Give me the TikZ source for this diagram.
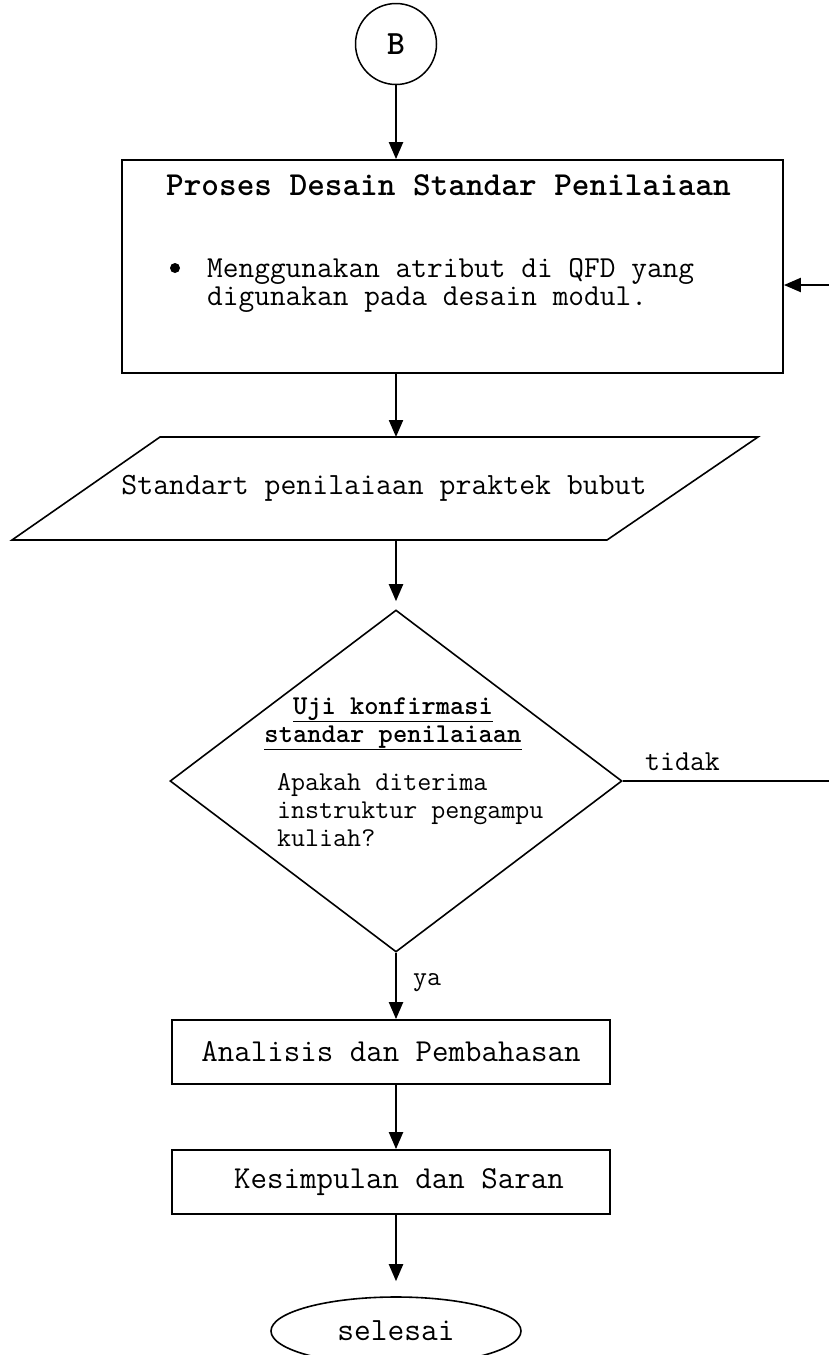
\documentclass[tikz,border=0pt]{standalone}
\usepackage{fontspec}
\usetikzlibrary{shapes.geometric, arrows.meta, positioning}
\tikzstyle{arrow} = [line width=2.2pt,-{Triangle[length=17pt,width=14pt]}]
\tikzstyle{connector}=[line width=1.5pt,draw=black,circle,minimum size=81pt,inner sep=0pt]
\tikzstyle{process}=[line width=1.8pt,draw=black,rectangle,inner sep=0pt]
\tikzstyle{io}=[line width=1.6pt,draw=black]
\tikzstyle{decision}=[line width=1.6pt,draw=black,diamond,inner sep=0pt]
\tikzstyle{terminal}=[line width=1.6pt,draw=black,ellipse,inner sep=0pt]
\tikzstyle{txt}=[inner sep=0pt,font=\ttfamily\fontsize{30.5}{28}\selectfont]
\tikzstyle{smalltxt}=[inner sep=0pt,font=\ttfamily\fontsize{27.2}{28}\selectfont]

\begin{document}
\begin{tikzpicture}[x=1pt,y=-1pt]
    \useasboundingbox (0,0) rectangle (828,1355);
    \node[connector, font=\ttfamily\bfseries\fontsize{34}{34}\selectfont] (b) at (396,44) {B};
    \node[process, minimum width=661pt, minimum height=213pt] (desain) at (452.5,266.5) {};
    \node[inner sep=0pt, anchor=base west, font=\ttfamily\bfseries\fontsize{33.6}{34}\selectfont] (judul) at (166,195) {Proses Desain Standar Penilaiaan};
    \node[inner sep=0pt, circle, fill=black, minimum size=10pt] (bullet) at (175,268) {};
    % base = baseline of the last line
    \node[txt, anchor=base west, align=left] (atribut) at (207,305) {Menggunakan atribut di QFD yang\\digunakan pada desain modul.};
    % data parallelogram
    \coordinate (io-nw) at (160,437);
    \coordinate (io-ne) at (758,437);
    \coordinate (io-se) at (607,540);
    \coordinate (io-sw) at (12,540);
    \draw[io] (io-nw) -- (io-ne) -- (io-se) -- (io-sw) -- cycle;
    \node[txt, font=\ttfamily\fontsize{30.9}{28}\selectfont] (standart) at (384,488) {Standart penilaiaan praktek bubut};
    \node[decision, minimum width=452pt, minimum height=342pt] (uji) at (396,781) {};
    \node[smalltxt, font=\ttfamily\bfseries\fontsize{27.2}{28}\selectfont, align=center, anchor=base] (ujijudul) at (393,742) {\underline{Uji konfirmasi}\\\underline{standar penilaiaan}};
    \node[smalltxt, anchor=base west, align=left] (ujitanya) at (277,846) {Apakah diterima\\instruktur pengampu\\kuliah?};
    \node[smalltxt, font=\ttfamily\fontsize{29}{29}\selectfont, anchor=base west] (tidak) at (645,770) {tidak};
    \node[smalltxt, anchor=base west] (ya) at (413,985) {ya};
    \node[process, txt, font=\ttfamily\fontsize{32}{32}\selectfont, minimum width=438pt, minimum height=64pt] (analisis) at (391,1052) {Analisis dan Pembahasan};
    \node[process, txt, font=\ttfamily\fontsize{32}{32}\selectfont, minimum width=438pt, minimum height=64pt] (kesimpulan) at (391,1182) {\hspace{16pt}Kesimpulan dan Saran};
    \node[terminal, txt, font=\ttfamily\fontsize{32.5}{32}\selectfont, minimum width=250pt, minimum height=68pt] (selesai) at (396,1331) {selesai};
    \coordinate (balik) at (834,285);

    \draw[arrow] (b) -- (b |- desain.north);
    \draw[arrow] (b |- desain.south) -- (b |- io-nw);
    \draw[arrow] (b |- io-sw) -- ([yshift=8pt]uji.north);
    \draw[arrow] (uji.east) -- (balik |- uji.east) -- (balik) -- (desain.east |- balik);
    \draw[arrow] (uji.south) -- (uji.south |- analisis.north);
    \draw[arrow] (uji.south |- analisis.south) -- (uji.south |- kesimpulan.north);
    \draw[arrow] (uji.south |- kesimpulan.south) -- ([yshift=15pt]selesai.north);
\end{tikzpicture}
\end{document}
